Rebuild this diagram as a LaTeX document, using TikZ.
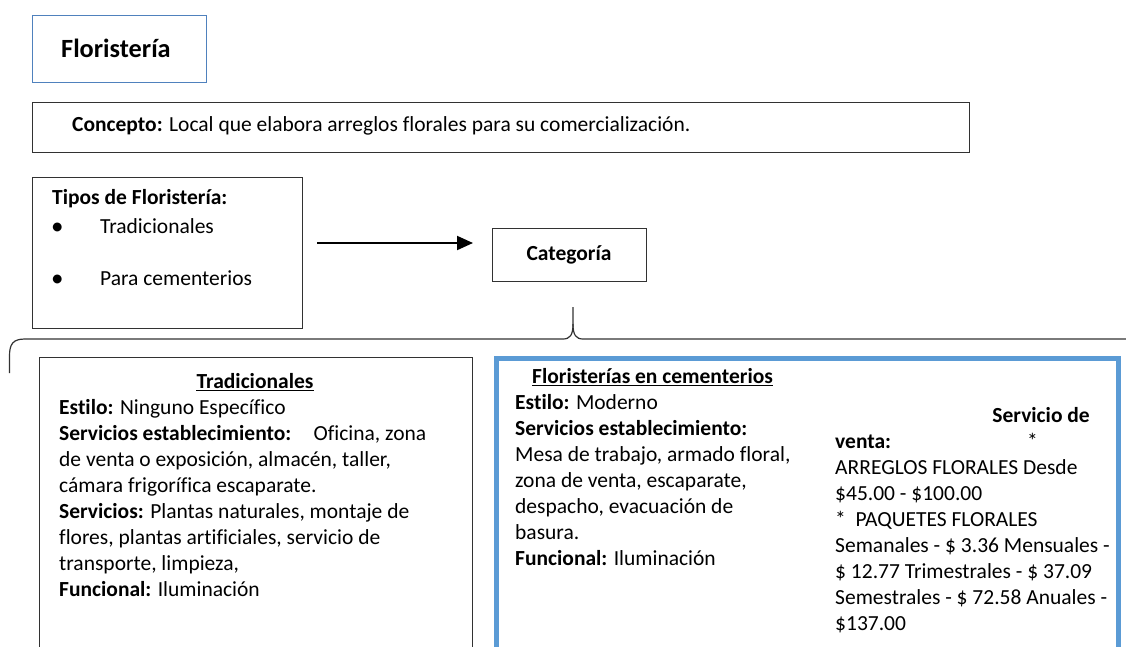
\documentclass[tikz,border=0pt]{standalone}
\usepackage{fontspec}
\setmainfont{Carlito}[Ligatures={NoCommon}]
\usetikzlibrary{arrows.meta}
\definecolor{boxgray}{RGB}{50,50,50}
\definecolor{titleblue}{RGB}{79,129,189}
\definecolor{accblue}{RGB}{91,155,213}
\newcommand\bodyfont{\fontsize{21.5}{26}\selectfont}
\begin{document}
\begin{tikzpicture}[x=1pt,y=-1pt,
  box/.style={draw=boxgray, line width=1.2pt, inner sep=0pt, anchor=north west},
  txt/.style={anchor=base west, inner sep=0pt, font=\bodyfont},
  ctxt/.style={anchor=base, inner sep=0pt, font=\bodyfont},
  arr/.style={line width=2pt, -{Triangle[length=16pt,width=14pt]}},
  bracestyle/.style={draw=boxgray, line width=1.2pt},
  uline/.style={line width=1.4pt}]
\useasboundingbox (0,0) rectangle (1126,646);
\clip (0,0) rectangle (1126,646);

% boxes
\node[box, draw=titleblue, line width=0.9pt, minimum width=174pt, minimum height=67pt] (flor) at (32,15) {};
\node[box, minimum width=937pt, minimum height=50pt] (conc) at (32,102) {};
\node[box, minimum width=270pt, minimum height=151pt] (tipos) at (32,177) {};
\node[box, minimum width=154pt, minimum height=53pt] (cat) at (492,228) {};
\node[box, minimum width=433pt, minimum height=330pt] (trad) at (39,357) {};
\node[box, draw=accblue, line width=5pt, minimum width=622pt, minimum height=330pt] (cem) at (493.5,356) {};

% title
\node[anchor=base west, inner sep=0pt, font=\fontsize{26.3}{30}\selectfont\bfseries] (florT) at (61,57) {Floristería};

% concepto
\node[txt] (concT) at (72,131) {\textbf{Concepto:} Local que elabora arreglos florales para su comercialización.};

% tipos
\node[txt] (tiposT) at (52,204) {\textbf{Tipos de Floristería:}};
\node[txt, font=\fontsize{25}{26}\selectfont] (b1) at (51,234) {•};
\node[txt] (t1) at (100,233) {Tradicionales};
\node[txt, font=\fontsize{25}{26}\selectfont] (b2) at (51,286) {•};
\node[txt] (t2) at (100,285) {Para cementerios};

% categoria
\node[ctxt, font=\bodyfont\bfseries] (catT) at (569,260) {Categoría};

% arrow
\coordinate (ay) at (0,243);
\draw[arr, shorten <=14pt, shorten >=19pt] (tipos.east |- ay) -- (cat.west |- ay);

% brace
\coordinate (tip) at (573,307);
\draw[bracestyle] (9.5,373) -- (9.5,356) .. controls (9.5,344) and (13,339) .. (25,339) -- (563,339) .. controls (570,339) and (573,335) .. (573,324) -- (tip);
\draw[bracestyle] (573,324) .. controls (573,335) and (576,339) .. (583,339) -- (1130,339);

% Tradicionales
\node[ctxt, font=\bodyfont\bfseries] (tradT) at (255,388) {Tradicionales};
\draw[uline] ([yshift=-2.5pt]tradT.base west) -- ([yshift=-2.5pt]tradT.base east);
\node[txt] (tr1) at (59,414) {\textbf{Estilo:} Ninguno Específico};
\node[txt] (tr2) at (59,440) {\hbox to 367pt{\textbf{Servicios establecimiento:}\hfill Oficina, zona}};
\node[txt] (tr3) at (59,466) {de venta o exposición, almacén, taller,};
\node[txt] (tr4) at (59,492) {cámara frigorífica escaparate.};
\node[txt] (tr5) at (59,518) {\textbf{Servicios:} Plantas naturales, montaje de};
\node[txt] (tr6) at (59,544) {flores, plantas artificiales, servicio de};
\node[txt] (tr7) at (59,570) {transporte, limpieza,};
\node[txt] (tr8) at (59,596) {\textbf{Funcional:} Iluminación};

% Cementerios left column
\node[txt, font=\bodyfont\bfseries] (cemT) at (532,383) {Floristerías en cementerios};
\draw[uline] ([yshift=-2.5pt]cemT.base west) -- ([yshift=-2.5pt]cemT.base east);
\node[txt] (c1) at (515,409) {\textbf{Estilo:} Moderno};
\node[txt] (c2) at (515,435) {\textbf{Servicios establecimiento:}};
\node[txt] (c3) at (515,461) {Mesa de trabajo, armado floral,};
\node[txt] (c4) at (515,487) {zona de venta, escaparate,};
\node[txt] (c5) at (515,513) {despacho, evacuación de};
\node[txt] (c6) at (515,539) {basura.};
\node[txt] (c7) at (515,565) {\textbf{Funcional:} Iluminación};

% Cementerios right column
\node[anchor=base east, inner sep=0pt, font=\bodyfont\bfseries] (r0) at (1090,422) {Servicio de};
\node[txt, font=\bodyfont\bfseries] (r1) at (835,448) {venta:};
\node[txt] (r1s) at (1027,448) {*};
\node[txt] (r2) at (835,474) {ARREGLOS FLORALES Desde};
\node[txt] (r3) at (835,500) {\$45.00 - \$100.00};
\node[txt] (r4) at (835,526) {* \ PAQUETES FLORALES};
\node[txt] (r5) at (835,552) {Semanales - \$ 3.36 Mensuales -};
\node[txt] (r6) at (835,578) {\$ 12.77 Trimestrales - \$ 37.09};
\node[txt] (r7) at (835,604) {Semestrales - \$ 72.58 Anuales -};
\node[txt] (r8) at (835,630) {\$137.00};
\end{tikzpicture}
\end{document}
